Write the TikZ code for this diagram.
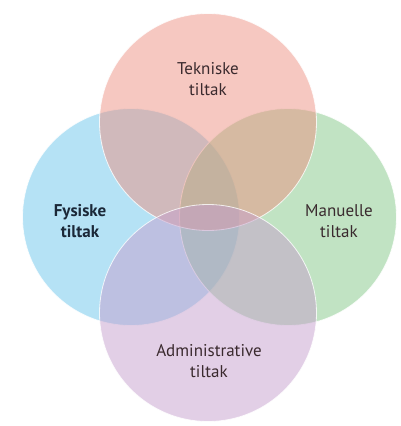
\documentclass[tikz,border=0pt]{standalone}
\usepackage{fontspec}
\setmainfont{PT Sans}
\definecolor{fysisk}{RGB}{107,197,235}
\definecolor{manuell}{RGB}{131,199,135}
\definecolor{teknisk}{RGB}{237,145,131}
\definecolor{admin}{RGB}{197,159,205}
\definecolor{tekst}{RGB}{58,42,46}
\definecolor{fysisktekst}{RGB}{27,40,56}
\begin{document}
\begin{tikzpicture}[x=1pt,y=-1pt,
    sirkel/.style={fill opacity=0.5, draw=white, draw opacity=0.8, line width=0.8pt},
    etikett/.style={align=center, font=\fontsize{17}{21}\selectfont, text=tekst}]
      \useasboundingbox (0,0) rectangle (400,426);

      \filldraw[sirkel, fill=fysisk] (131,217) circle[radius=108.5];
      \filldraw[sirkel, fill=manuell] (288,217) circle[radius=108.5];
      \filldraw[sirkel, fill=teknisk] (208,122) circle[radius=108.5];
      \filldraw[sirkel, fill=admin] (208,313) circle[radius=108.5];

      \node[etikett] (tekniske) at (208,79) {Tekniske\\tiltak};
      \node[etikett, text=fysisktekst, font=\fontsize{17}{21}\selectfont\bfseries] (fysiske) at (80,221) {Fysiske\\tiltak};
      \node[etikett] (manuelle) at (339,221) {Manuelle\\tiltak};
      \node[etikett] (administrative) at (209,361) {Administrative\\tiltak};

    \end{tikzpicture}
\end{document}
